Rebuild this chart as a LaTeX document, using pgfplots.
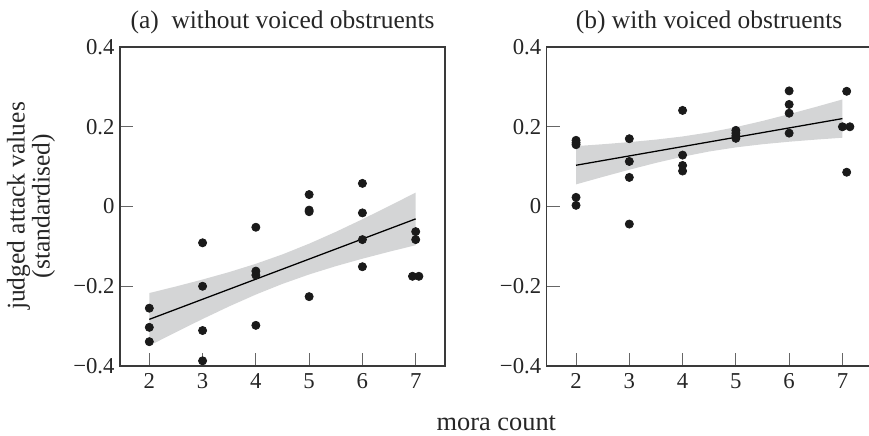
\documentclass[border=0pt]{standalone}
\usepackage{fontspec}
\setmainfont{Liberation Serif}
\usepackage{pgfplots}
\pgfplotsset{compat=1.18}
\definecolor{band}{HTML}{D4D5D6}
\definecolor{spine}{HTML}{3A3A3A}
\definecolor{dots}{HTML}{1A1A1A}
\pgfplotsset{
  panel/.style={
    scale only axis, width=178.75pt, height=175.45pt,
    xmin=1.45, xmax=7.55, ymin=-0.4, ymax=0.4,
    xtick={2,3,4,5,6,7},
    ytick={-0.4,-0.2,0,0.2,0.4},
    yticklabels={−0.4,−0.2,0,0.2,0.4},
    xticklabels={2,3,4,5,6,7},
    tick align=inside, xtick pos=bottom, ytick pos=left,
    major tick length=7.15pt,
    tick style={gray!80!black, line width=0.5pt},
    axis line style={spine, line width=0.8pt},
    ticklabel style={font=\fontsize{12.5}{14}\selectfont, text=black!85},
    xticklabel style={yshift=-0.5pt},
    yticklabel style={xshift=0.5pt},
    clip=false,
  },
  dotstyle/.style={only marks, mark=*, mark size=2.25pt, dots, mark options={draw=dots, fill=dots}},
}
\begin{document}
\begin{tikzpicture}
\useasboundingbox (-66pt,-37.95pt) rectangle (411.95pt,201.3pt);
% panel a
\begin{axis}[panel, at={(0pt,0pt)}, anchor=south west]
\addplot[fill=band, draw=none] coordinates {
(2,-0.217) (2.5,-0.2005) (3,-0.1831) (3.5,-0.1644) (4,-0.1436) (4.5,-0.120) (5,-0.0932) (5.5,-0.0636) (6,-0.0319) (6.5,0.0011) (7,0.035)
(7,-0.097) (6.5,-0.1135) (6,-0.1309) (5.5,-0.1496) (5,-0.1704) (4.5,-0.194) (4,-0.2208) (3.5,-0.2504) (3,-0.2821) (2.5,-0.3151) (2,-0.349)
} -- cycle;
\addplot[black, line width=0.7pt] coordinates {(2,-0.283) (7,-0.031)};
\addplot[dotstyle] coordinates {
(2,-0.255) (2,-0.303) (2,-0.339)
(3,-0.091) (3,-0.200) (3,-0.311) (3,-0.387)
(4,-0.052) (4,-0.162) (4,-0.172) (4,-0.298)
(5,0.030) (5,-0.009) (5,-0.013) (5,-0.226)
(6,0.058) (6,-0.016) (6,-0.083) (6,-0.151)
(7,-0.063) (7,-0.083) (6.94,-0.175) (7.06,-0.175)
};
\end{axis}
% panel b
\begin{axis}[panel, at={(234.7pt,0pt)}, anchor=south west]
\addplot[fill=band, draw=none] coordinates {
(2,0.1515) (2.5,0.1562) (3,0.1615) (3.5,0.1678) (4,0.1757) (4.5,0.186) (5,0.1991) (5.5,0.2146) (6,0.2317) (6.5,0.2498) (7,0.2685)
(7,0.1725) (6.5,0.1678) (6,0.1625) (5.5,0.1562) (5,0.1483) (4.5,0.138) (4,0.1249) (3.5,0.1094) (3,0.0923) (2.5,0.0742) (2,0.0555)
} -- cycle;
\addplot[black, line width=0.7pt] coordinates {(2,0.1035) (7,0.2205)};
\addplot[dotstyle] coordinates {
(2,0.166) (2,0.160) (2,0.155) (2,0.023) (2,0.003)
(3,0.170) (3,0.113) (3,0.073) (3,-0.044)
(4,0.241) (4,0.129) (4,0.103) (4,0.089)
(5,0.191) (5,0.184) (5,0.177) (5,0.171)
(6,0.290) (6,0.256) (6,0.234) (6,0.184)
(7.08,0.289) (7.0,0.200) (7.14,0.200) (7.08,0.086)
};
\end{axis}
% titles and labels
\node[anchor=base, font=\fontsize{14}{16}\selectfont, text=black!85] at (89.4pt,185.9pt) {(a)\ \ without voiced obstruents};
\node[anchor=base, font=\fontsize{14}{16}\selectfont, text=black!85] at (324pt,185.9pt) {(b) with voiced obstruents};
\node[rotate=90, align=center, inner sep=0pt, font=\fontsize{14}{13.75}\selectfont, text=black!85] at (-49pt,88pt) {judged attack values\\(standardised)};
\node[anchor=base, font=\fontsize{14.5}{16}\selectfont, text=black!85] at (207pt,-35.2pt) {mora count};
\end{tikzpicture}
\end{document}
